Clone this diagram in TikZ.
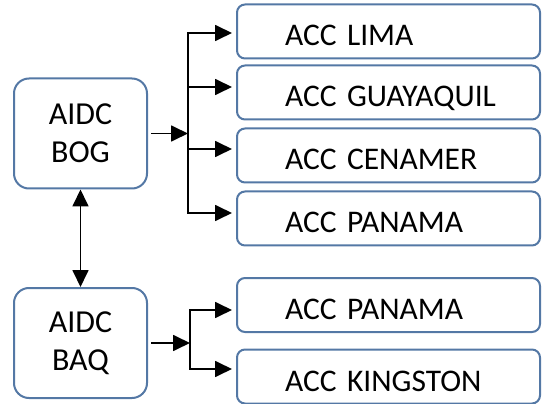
\documentclass[tikz,border=0pt]{standalone}
\usepackage{fontspec}
\setmainfont{Carlito}
\usetikzlibrary{arrows.meta}
\definecolor{boxblue}{RGB}{84,120,165}
\tikzset{
  bigbox/.style={draw=boxblue, line width=2pt, rounded corners=15pt, fill=white,
    minimum width=133pt, minimum height=110pt, align=center, inner sep=0pt,
    font=\fontsize{32}{38}\selectfont},
  accbox/.style={draw=boxblue, line width=2pt, rounded corners=8pt, fill=white,
    minimum width=303pt, minimum height=54pt, inner xsep=0pt, inner ysep=0pt,
    text width=303pt, align=left, text height=29pt, text depth=0pt,
    execute at begin node={\hspace*{48pt}},
    font=\fontsize{31.5}{36}\selectfont},
  arr/.style={line width=1.8pt, -{Triangle[length=17pt,width=16pt]}},
  darr/.style={line width=1.8pt, {Triangle[length=17pt,width=16pt]}-{Triangle[length=17pt,width=16pt]}},
}
\begin{document}
\begin{tikzpicture}[x=1pt,y=-1pt]
\useasboundingbox (0,0) rectangle (542,404);
\node[bigbox] (bog) at (80.5,133.5) {AIDC\\BOG};
\node[bigbox] (baq) at (80.5,343) {AIDC\\BAQ};
\node[accbox] (lima) at (388.5,31.5) {ACC LIMA};
\node[accbox] (guay) at (388.5,92.5) {ACC GUAYAQUIL};
\node[accbox] (cen)  at (388.5,155.5) {ACC CENAMER};
\node[accbox] (pan)  at (388.5,218.5) {ACC PANAMA};
\node[accbox] (pan2) at (388.5,305) {ACC PANAMA};
\node[accbox] (king) at (388.5,376.5) {ACC KINGSTON};
\coordinate (jt) at (188,133.5);
\coordinate (jb) at (190,343);
\draw[arr, shorten <=3pt] (bog.east) -- (jt);
\draw[arr, shorten >=4pt] (jt) |- ([yshift=-1.5pt]lima.west);
\draw[arr, shorten >=4pt] (jt) |- ([yshift=5.5pt]guay.west);
\draw[arr, shorten >=4pt] (jt) |- ([yshift=6.5pt]cen.west);
\draw[arr, shorten >=4pt] (jt) |- ([yshift=5.5pt]pan.west);
\draw[arr, shorten <=3pt] (baq.east) -- (jb);
\draw[arr, shorten >=4pt] (jb) |- ([yshift=-5pt]pan2.west);
\draw[arr, shorten >=4pt] (jb) |- ([yshift=7.5pt]king.west);
\draw[darr] (bog.south) -- (baq.north);
\end{tikzpicture}
\end{document}
